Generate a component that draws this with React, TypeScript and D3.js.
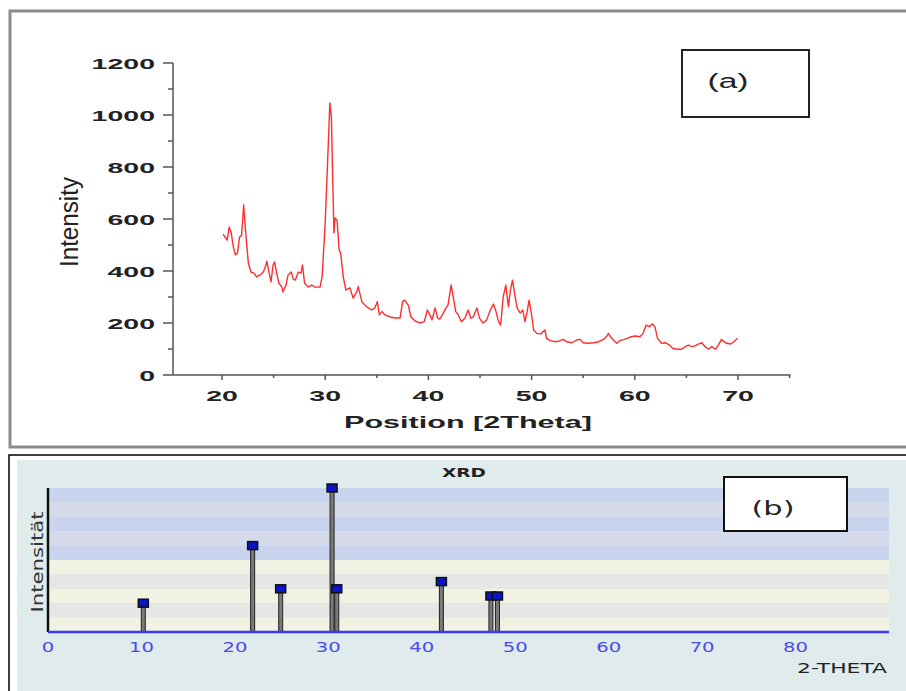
import React from 'react';
import * as d3 from 'd3';

// panel (a): measured XRD pattern
const thetaA = [20.1, 20.5, 20.7, 20.9, 21.1, 21.3, 21.5, 21.7, 21.9, 22.1, 22.3, 22.55, 22.8, 23.1, 23.35, 23.7, 24.0, 24.2, 24.35, 24.55, 24.75, 24.95, 25.1, 25.3, 25.5, 25.8, 25.9, 26.2, 26.4, 26.7, 26.9, 27.1, 27.4, 27.65, 27.8, 28.0, 28.35, 28.7, 29.0, 29.5, 29.7, 30.0, 30.25, 30.45, 30.6, 30.75, 30.85, 30.95, 31.15, 31.35, 31.5, 31.75, 32.0, 32.2, 32.4, 32.7, 33.05, 33.2, 33.55, 34.0, 34.5, 34.8, 35.05, 35.25, 35.5, 35.8, 36.3, 36.8, 37.25, 37.5, 37.7, 38.05, 38.3, 38.7, 39.2, 39.6, 39.9, 40.15, 40.35, 40.65, 40.9, 41.1, 41.45, 41.7, 41.9, 42.2, 42.4, 42.65, 42.9, 43.2, 43.55, 43.85, 44.1, 44.35, 44.7, 44.95, 45.3, 45.65, 46.0, 46.3, 46.55, 46.8, 47.0, 47.25, 47.5, 47.75, 47.95, 48.15, 48.4, 48.6, 48.9, 49.15, 49.35, 49.6, 49.75, 50.0, 50.2, 50.5, 50.9, 51.1, 51.3, 51.45, 51.8, 52.3, 52.75, 53.1, 53.4, 53.9, 54.4, 54.7, 55.0, 55.5, 56.0, 56.5, 56.95, 57.2, 57.45, 57.65, 57.9, 58.25, 58.55, 59.0, 59.5, 60.0, 60.5, 60.8, 61.1, 61.4, 61.7, 61.95, 62.2, 62.6, 63.0, 63.35, 63.7, 64.15, 64.55, 64.9, 65.2, 65.5, 65.85, 66.15, 66.5, 66.8, 67.15, 67.45, 67.8, 68.1, 68.4, 68.65, 68.9, 69.3, 69.6, 69.95];
const intensityA = [542, 519, 569, 546, 492, 462, 469, 531, 538, 654, 546, 431, 396, 392, 377, 385, 396, 415, 438, 396, 358, 423, 435, 392, 354, 338, 319, 346, 385, 396, 369, 365, 396, 392, 423, 354, 338, 346, 338, 338, 377, 585, 838, 1046, 992, 712, 546, 604, 596, 481, 469, 377, 327, 331, 335, 296, 320, 340, 282, 263, 250, 258, 282, 231, 244, 231, 223, 219, 219, 282, 288, 269, 224, 208, 200, 205, 250, 231, 212, 258, 219, 215, 238, 258, 269, 346, 301, 244, 231, 205, 219, 250, 219, 224, 258, 219, 200, 212, 250, 273, 244, 205, 192, 301, 346, 263, 327, 365, 301, 258, 238, 250, 205, 250, 288, 231, 173, 160, 158, 167, 173, 141, 132, 128, 132, 137, 128, 124, 135, 137, 124, 122, 124, 128, 137, 145, 160, 147, 135, 122, 132, 137, 145, 150, 147, 160, 192, 186, 196, 186, 141, 122, 124, 115, 102, 99, 99, 109, 115, 109, 112, 119, 124, 109, 99, 109, 99, 115, 137, 128, 122, 119, 128, 141];
const yTicksA = [0, 200, 400, 600, 800, 1000, 1200];
const yMinorA = [100, 300, 500, 700, 900, 1100];
const xTicksA = [20, 30, 40, 50, 60, 70];
const xMinorA = [25, 35, 45, 55, 65, 75];

// panel (b): reference peak list
const peakTheta = [10.2, 21.9, 24.9, 30.4, 30.9, 42.1, 47.4, 48.1];
const peakIntensity = [20, 60, 30, 100, 30, 35, 25, 25];
const xTicksB = [0, 10, 20, 30, 40, 50, 60, 70, 80];
const bandColors = ['#c9d5ef', '#d5dbea', '#c9d5ef', '#d5dbea', '#c9d5ef', '#f2f2e2', '#e4e7e3', '#f2f2e2', '#e4e7e3', '#f2f2e2'];

const sans = 'Liberation Sans, Arial, sans-serif';
const dv = 'DejaVu Sans, Verdana, sans-serif';

export default function App() {
  const xA = d3.scaleLinear().domain([20, 70]).range([222, 738]);
  const yA = d3.scaleLinear().domain([0, 1200]).range([375, 63]);
  const axisLeftA = 173;
  const axisRightA = xA(75.1);
  const line = d3.line<number>()
    .x((d, i) => xA(thetaA[i]))
    .y(d => yA(d));

  const xB = d3.scaleLinear().domain([0, 90]).range([48, 889]);
  const yB = d3.scaleLinear().domain([0, 100]).range([632, 488]);
  const band = d3.scaleBand<number>().domain(d3.range(10)).range([488, 632]);

  return (
    <svg width={906} height={691} style={{ position: 'absolute', left: 0, top: 0, background: '#fff' }}>
      {/* panel (a) */}
      <rect x={10} y={11} width={910} height={436} fill="#fff" stroke="#8c8c8c" strokeWidth={3} />
      <g stroke="#555" strokeWidth={1.5}>
        <line x1={axisLeftA} x2={axisLeftA} y1={yA(1200)} y2={yA(0)} />
        <line x1={axisLeftA} x2={axisRightA} y1={yA(0)} y2={yA(0)} />
        {yTicksA.map(t => <line key={'ya' + t} x1={axisLeftA - 10} x2={axisLeftA} y1={yA(t)} y2={yA(t)} />)}
        {yMinorA.map(t => <line key={'ym' + t} x1={axisLeftA - 5} x2={axisLeftA} y1={yA(t)} y2={yA(t)} />)}
        {xTicksA.map(t => <line key={'xa' + t} x1={xA(t)} x2={xA(t)} y1={yA(0)} y2={yA(0) + 5} />)}
        {xMinorA.map(t => <line key={'xm' + t} x1={xA(t)} x2={xA(t)} y1={yA(0)} y2={yA(0) + 3} />)}
      </g>
      <g fontFamily={sans} fontWeight="bold" fontSize={15} fill="#222">
        {yTicksA.map(t => (
          <text key={'yl' + t} textAnchor="end" transform={`translate(155,${yA(t) + 5.5}) scale(1.9,1)`}>{t}</text>
        ))}
        {xTicksA.map(t => (
          <text key={'xl' + t} textAnchor="middle" transform={`translate(${xA(t)},401) scale(1.9,1)`}>{t}</text>
        ))}
        <text x={468} y={428} textAnchor="middle" fontSize={17} textLength={248} lengthAdjust="spacingAndGlyphs">Position [2Theta]</text>
      </g>
      <text transform="translate(78,222) rotate(-90) scale(1,1.5)" textAnchor="middle" fontFamily={sans} fontSize={17}
        textLength={90} lengthAdjust="spacingAndGlyphs" fill="#222">Intensity</text>
      <path d={line(intensityA) || ''} fill="none" stroke="#ff2d2d" strokeWidth={1.4} strokeLinejoin="round" />
      <rect x={682} y={50} width={127} height={67} fill="#fff" stroke="#222" strokeWidth={2} />
      <text x={728} y={88} textAnchor="middle" fontFamily={sans} fontSize={20} textLength={41}
        lengthAdjust="spacingAndGlyphs" fill="#222">(a)</text>

      {/* panel (b) */}
      <rect x={9} y={455} width={910} height={250} fill="#fff" stroke="#000" strokeWidth={1.5} />
      <rect x={17} y={460} width={900} height={240} fill="#e0ecec" />
      {bandColors.map((c, i) => (
        <rect key={'b' + i} x={xB(0)} y={band(i)} width={xB(90) - xB(0)} height={band.bandwidth()} fill={c} />
      ))}
      {peakTheta.map((t, i) => (
        <rect key={'s' + i} x={xB(t) - 2} y={yB(peakIntensity[i])} width={4} height={yB(0) - yB(peakIntensity[i])}
          fill="#7a7a7a" stroke="#222" strokeWidth={1} />
      ))}
      {peakTheta.map((t, i) => (
        <rect key={'m' + i} x={xB(t) - 5} y={yB(peakIntensity[i]) - 4} width={10} height={8}
          fill="#0a14c8" stroke="#111" strokeWidth={1.5} />
      ))}
      <line x1={xB(0)} x2={xB(0)} y1={yB(100)} y2={yB(0)} stroke="#111" strokeWidth={2.5} />
      <line x1={xB(0)} x2={xB(90)} y1={yB(0)} y2={yB(0)} stroke="#3a3aff" strokeWidth={2.5} />
      <g fontFamily={dv} fontSize={14} fill="#4a4af0">
        {xTicksB.map(t => (
          <text key={'bl' + t} textAnchor="middle" transform={`translate(${xB(t)},652) scale(1.4,1)`}>{t}</text>
        ))}
      </g>
      <text x={464} y={477} textAnchor="middle" fontFamily={dv} fontWeight="bold" fontSize={12} textLength={44}
        lengthAdjust="spacingAndGlyphs" fill="#222">XRD</text>
      <text x={887} y={673} textAnchor="end" fontFamily={dv} fontSize={14} textLength={90}
        lengthAdjust="spacingAndGlyphs" fill="#222">2-THETA</text>
      <text transform="translate(43,562) rotate(-90)" textAnchor="middle" fontFamily={dv} fontSize={15}
        textLength={101} lengthAdjust="spacingAndGlyphs" fill="#333">Intensität</text>
      <rect x={724} y={477} width={123} height={54} fill="#fff" stroke="#111" strokeWidth={2} />
      <text x={773} y={515} textAnchor="middle" fontFamily={dv} fontSize={20} textLength={43}
        lengthAdjust="spacingAndGlyphs" fill="#222">(b)</text>
    </svg>
  );
}
